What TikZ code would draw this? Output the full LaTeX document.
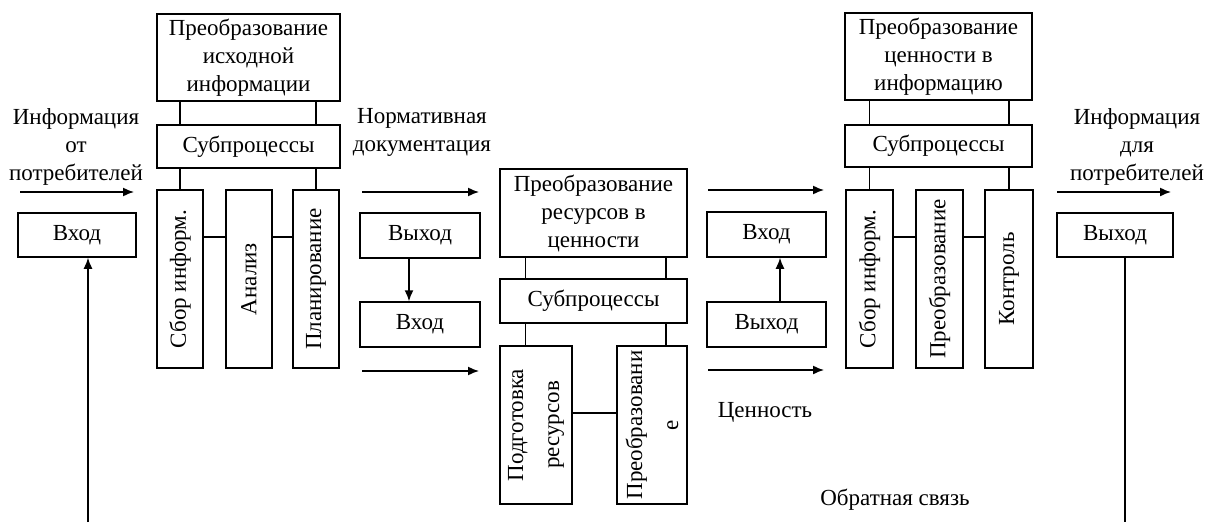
\documentclass[tikz,border=0pt]{standalone}
\usepackage{fontspec}
\setmainfont{Liberation Serif}
\usetikzlibrary{calc,arrows.meta}
\begin{document}
\begin{tikzpicture}[x=1pt,y=-1pt,
  every node/.style={font=\fontsize{23}{28}\selectfont},
  bx/.style={draw, line width=1.5pt, inner sep=0pt, align=center},
  lbl/.style={align=center, inner sep=0pt},
  vt/.style={rotate=90, align=center, inner sep=0pt, font=\fontsize{23}{36}\selectfont},
  ln/.style={line width=1.5pt},
  arr/.style={line width=1.5pt, -{Latex[length=11pt,width=9pt]}}
]
\useasboundingbox (0,0) rectangle (1206,522);
\fill[white] (0,0) rectangle (1206,522);

% ---------- left block ----------
\node[bx, minimum width=183, minimum height=87] (ltop) at (248.5,57.5) {Преобразование\\исходной\\информации};
\node[bx, minimum width=183, minimum height=43] (lsub) at (248.5,146.5) {Субпроцессы};
\node[bx, minimum width=46, minimum height=178] (lv1) at (180,279) {};
\node[bx, minimum width=46, minimum height=178] (lv2) at (249,279) {};
\node[bx, minimum width=46, minimum height=178] (lv3) at (316,279) {};
\node[vt] (lv1t) at (lv1) {Сбор информ.};
\node[vt] (lv2t) at (lv2) {Анализ};
\node[vt] (lv3t) at (lv3) {Планирование};
\draw[ln] (ltop.south -| lv1) -- (lsub.north -| lv1);
\draw[ln] (ltop.south -| lv3) -- (lsub.north -| lv3);
\draw[ln] (lsub.south -| lv1) -- (lv1.north);
\draw[ln] (lsub.south -| lv3) -- (lv3.north);
\draw[ln] ($(lv1.east)+(0,-42)$) -- ($(lv2.west)+(0,-42)$);
\draw[ln] ($(lv2.east)+(0,-42)$) -- ($(lv3.west)+(0,-42)$);

% input on the far left
\node[lbl] (tinfo1) at (76,146.5) {Информация\\от\\потребителей};
\coordinate (a1s) at (20,192);
\coordinate (a1e) at (134,192);
\draw[arr] (a1s) -- (a1e);
\node[bx, minimum width=118, minimum height=44] (lin) at (77,235) {Вход};

% ---------- between left and centre ----------
\node[lbl] (tnorm) at (422,132.5) {Нормативная\\документация};
\coordinate (a2s) at (362,192);
\coordinate (a2e) at (479,192);
\draw[arr] (a2s) -- (a2e);
\node[bx, minimum width=120, minimum height=45] (mlout) at (420,235.5) {Выход};
\node[bx, minimum width=120, minimum height=45] (mlin) at (420,324.5) {Вход};
\draw[arr] ($(mlout.south)+(-11,0)$) -- ($(mlin.north)+(-11,0)$);
\coordinate (a3s) at (362,371);
\coordinate (a3e) at (479,371);
\draw[arr] (a3s) -- (a3e);

% ---------- centre block ----------
\node[bx, minimum width=187, minimum height=88] (ctop) at (593.5,213) {Преобразование\\ресурсов в\\ценности};
\node[bx, minimum width=187, minimum height=44] (csub) at (593.5,301) {Субпроцессы};
\node[bx, minimum width=72, minimum height=158] (cv1) at (536,425) {};
\node[bx, minimum width=70, minimum height=158] (cv2) at (652,425) {};
\node[vt] (cv1t) at (cv1) {Подготовка\\ресурсов};
\node[vt] (cv2t) at (cv2) {Преобразовани\\е};
\draw[ln] ($(ctop.south west)+(26,0)$) -- ($(csub.north west)+(26,0)$);
\draw[ln] ($(ctop.south east)+(-22,0)$) -- ($(csub.north east)+(-22,0)$);
\draw[ln] ($(csub.south west)+(26,0)$) -- ($(cv1.north west)+(26,0)$);
\draw[ln] ($(csub.south east)+(-22,0)$) -- ($(cv2.north east)+(-22,0)$);
\draw[ln] ($(cv1.east)+(0,-12)$) -- ($(cv2.west)+(0,-12)$);

% ---------- between centre and right ----------
\coordinate (a4s) at (708,190);
\coordinate (a4e) at (824,190);
\draw[arr] (a4s) -- (a4e);
\node[bx, minimum width=119, minimum height=45] (mrin) at (766.5,234.5) {Вход};
\node[bx, minimum width=119, minimum height=45] (mrout) at (766.5,324.5) {Выход};
\draw[arr] ($(mrout.north)+(13.5,0)$) -- ($(mrin.south)+(13.5,0)$);
\coordinate (a5s) at (708,370);
\coordinate (a5e) at (824,370);
\draw[arr] (a5s) -- (a5e);
\node[lbl] (tval) at (765,412) {Ценность};

% ---------- right block ----------
\node[bx, minimum width=187, minimum height=87] (rtop) at (938.5,56.5) {Преобразование\\ценности в\\информацию};
\node[bx, minimum width=187, minimum height=42] (rsub) at (938.5,146) {Субпроцессы};
\node[bx, minimum width=47, minimum height=178] (rv1) at (869.5,279) {};
\node[bx, minimum width=47, minimum height=178] (rv2) at (939.5,279) {};
\node[bx, minimum width=48, minimum height=178] (rv3) at (1009,279) {};
\node[vt] (rv1t) at (rv1) {Сбор информ.};
\node[vt] (rv2t) at (rv2) {Преобразование};
\node[vt] (rv3t) at (rv3) {Контроль};
\draw[ln] (rtop.south -| rv1) -- (rsub.north -| rv1);
\draw[ln] (rtop.south -| rv3) -- (rsub.north -| rv3);
\draw[ln] (rsub.south -| rv1) -- (rv1.north);
\draw[ln] (rsub.south -| rv3) -- (rv3.north);
\draw[ln] ($(rv1.east)+(0,-42)$) -- ($(rv2.west)+(0,-42)$);
\draw[ln] ($(rv2.east)+(0,-42)$) -- ($(rv3.west)+(0,-42)$);

% output on the far right
\node[lbl] (tinfo2) at (1137,146.5) {Информация\\для\\потребителей};
\coordinate (a6s) at (1057,192);
\coordinate (a6e) at (1171,192);
\draw[arr] (a6s) -- (a6e);
\node[bx, minimum width=116, minimum height=44] (rout) at (1115,235) {Выход};

% ---------- feedback ----------
\node[lbl] (tfb) at (895,500) {Обратная связь};
\coordinate (fbl) at (88,522);
\coordinate (fbr) at (1125,522);
\draw[ln] ($(rout.south)+(10,0)$) -- (fbr);
\draw[arr] (fbl) -- ($(lin.south)+(11,0)$);
\end{tikzpicture}
\end{document}
